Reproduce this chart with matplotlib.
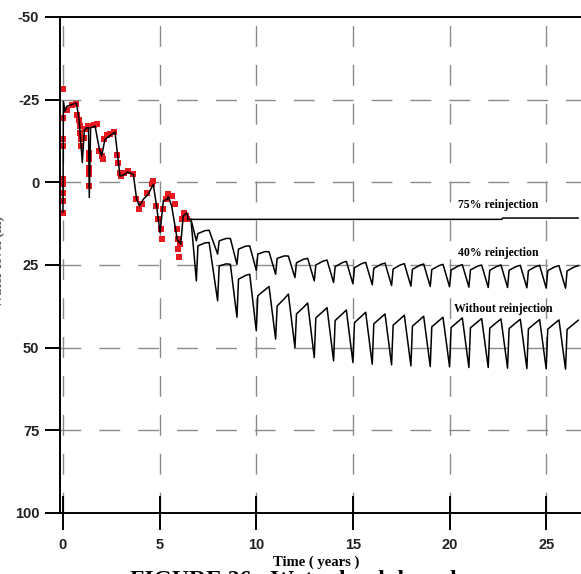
import matplotlib
matplotlib.use('Agg')
import matplotlib.pyplot as plt
import numpy as np

plt.rcParams['axes.unicode_minus'] = False

# observed water level (red squares), years / m
obs_t = [0.02, 0.02, 0.02, 0.02, 0.02, 0.02, 0.02, 0.02, 0.02, 0.19, 0.45, 0.67, 0.74, 0.84,
         0.88, 0.9, 0.91, 0.93, 1.09, 1.14, 1.28, 1.36, 1.36, 1.36, 1.36, 1.36, 1.6, 1.74,
         1.88, 2.0, 2.05, 2.12, 2.28, 2.45, 2.66, 2.78, 2.87, 2.96, 2.98, 3.16, 3.38, 3.64,
         3.78, 3.95, 4.07, 4.33, 4.59, 4.67, 4.81, 4.93, 5.05, 5.1, 5.19, 5.33, 5.45, 5.62,
         5.79, 5.88, 5.96, 5.96, 6.02, 6.05, 6.14, 6.26, 6.36, 6.4]
obs_y = [-28.3, -19.5, -13.0, -11.0, -0.9, 0.6, 3.1, 5.6, 9.2, -22.0, -23.5, -23.6, -20.5, -19.0,
         -17.0, -15.0, -13.0, -11.0, -13.5, -16.0, -17.0, -9.0, -7.0, -4.4, -2.4, 1.1, -17.2, -17.5,
         -9.5, -8.0, -7.0, -13.0, -14.2, -14.5, -15.2, -8.4, -5.9, -2.9, -1.9, -2.9, -3.4, -2.6,
         5.1, 8.2, 6.6, 3.1, 0.6, -0.4, 7.1, 11.2, 14.2, 17.0, 8.2, 5.1, 3.6, 4.1,
         6.6, 14.2, 17.2, 20.2, 22.7, 18.7, 11.2, 9.2, 10.2, 11.2]

# simulated history (black line)
sim_t = [0.0, 0.02, 0.1, 0.2, 0.7, 0.84, 1.0, 1.1, 1.22, 1.32, 1.36, 1.43, 1.66, 1.88, 2.0,
         2.17, 2.52, 2.69, 2.81, 2.95, 3.2, 3.33, 3.64, 3.81, 3.95, 4.16, 4.41, 4.67, 4.84,
         5.02, 5.19, 5.4, 5.45, 5.62, 5.91, 6.09, 6.22, 6.4, 6.48]
sim_y = [9.0, -24.5, -21.5, -23.0, -24.0, -18.5, -6.0, -15.5, -16.5, -16.5, 4.6, -16.5, -17.0,
         -10.0, -8.0, -13.0, -14.5, -15.2, -9.0, -1.9, -2.4, -3.1, -2.4, 5.1, 7.1, 5.1, 3.6,
         0.6, 7.1, 15.2, 5.6, 5.1, 4.3, 7.1, 17.2, 18.7, 10.2, 9.2, 11.2]

# predictions
p75_t = [6.48, 22.7, 22.75, 26.65]
p75_y = [11.2, 11.2, 10.8, 10.8]

branch_start = (6.62, 11.2)
trough_years = [6.9, 8, 9, 10, 11, 12, 13, 14, 15, 16, 17, 18, 19, 20, 21, 22, 23, 24, 25, 26]

p40_trough = [17.7, 21.7, 24.8, 26.6, 27.8, 28.8, 29.8, 30.3, 30.7, 31.0, 31.2, 31.4, 31.5,
              31.6, 31.7, 31.8, 31.8, 31.9, 32.0, 32.0]
p40_rise = [15.5, 17.7, 20.2, 21.7, 23.0, 24.3, 25.0, 25.5, 25.8, 26.0, 26.2, 26.3, 26.4,
            26.5, 26.5, 26.6, 26.6, 26.7, 26.7, 26.8]
p40_peak = [14.5, 17.0, 19.2, 21.0, 22.3, 23.0, 23.5, 23.9, 24.2, 24.4, 24.6, 24.7, 24.8,
            24.9, 25.0, 25.0, 25.1, 25.1, 25.2, 25.2]

p0_trough = [29.8, 35.8, 40.8, 44.9, 47.4, 50.0, 53.0, 54.0, 54.5, 55.0, 55.2, 55.5, 55.7,
             55.8, 56.0, 56.0, 56.2, 56.3, 56.4, 56.5]
p0_rise = [19.2, 25.3, 29.3, 34.3, 37.4, 39.8, 41.0, 41.8, 42.4, 42.8, 43.2, 43.5, 43.7,
           43.9, 44.0, 44.1, 44.2, 44.3, 44.4, 44.5]
p0_peak = [18.2, 24.8, 27.8, 31.5, 33.8, 36.5, 37.9, 38.6, 39.3, 39.8, 40.2, 40.5, 40.8,
           41.0, 41.2, 41.3, 41.4, 41.5, 41.6, 41.7]


def sawtooth(trough, rise, peak):
    # each year: drop to trough, quick recovery, slow rise to peak
    t = [branch_start[0]]
    y = [branch_start[1]]
    for k, yr in enumerate(trough_years):
        t += [yr, yr + 0.08, yr + 0.45, yr + 0.66]
        y += [trough[k], rise[k], (rise[k] + peak[k]) / 2 - 0.4, peak[k]]
    return t, y


W, H = 581, 574
fig = plt.figure(figsize=(W / 100, H / 100), dpi=100)
ax = fig.add_axes([60 / W, 61 / H, (W - 60) / W, 496 / H])

grid_kw = dict(color='#8a8a8a', lw=1.0, linestyle=(0, (15, 13)), zorder=1)
for gx in [0, 5, 10, 15, 20, 25]:
    ax.axvline(gx, **grid_kw)
for gy in [-25, 0, 25, 50, 75]:
    ax.axhline(gy, **grid_kw)

ax.plot(obs_t, obs_y, 's', color='#e8191f', ms=4.0, mew=0, zorder=2)
ax.plot(sim_t, sim_y, color='black', lw=1.1, zorder=3)
ax.plot(p75_t, p75_y, color='black', lw=1.1, zorder=3)
t40, y40 = sawtooth(p40_trough, p40_rise, p40_peak)
ax.plot(t40, y40, color='black', lw=1.1, zorder=3)
t0, y0 = sawtooth(p0_trough, p0_rise, p0_peak)
ax.plot(t0, y0, color='black', lw=1.1, zorder=3)

lab_font = dict(family='Liberation Serif', fontweight='bold', fontsize=8.5, ha='center', va='center')
ax.text(22.5, 6.8, '75% reinjection', **lab_font)
ax.text(22.5, 21.5, '40% reinjection', **lab_font)
ax.text(22.8, 38.4, 'Without reinjection', **lab_font)

ax.set_xlim(-0.155, 26.8)
ax.set_ylim(100, -50)
ax.set_xticks([0, 5, 10, 15, 20, 25])
ax.set_yticks([-50, -25, 0, 25, 50, 75, 100])

ax.spines['right'].set_visible(False)
for s in ['left', 'top', 'bottom']:
    ax.spines[s].set_linewidth(1.4)

ax.tick_params(axis='x', direction='inout', length=24, width=1.4, pad=6)
ax.tick_params(axis='y', direction='out', length=11, width=1.4, pad=4)
for lbl in ax.get_xticklabels() + ax.get_yticklabels():
    lbl.set_family('Liberation Sans')
    lbl.set_fontweight('bold')
    lbl.set_fontsize(10.5)
    lbl.set_color('#222222')

fig.text(316 / W, 1 - 562 / H, 'Time ( years )', family='Liberation Serif', fontweight='bold',
         fontsize=10.5, ha='center', va='center')
fig.text(-2 / W, 1 - 262 / H, 'Water level (m)', family='Liberation Serif', fontweight='bold',
         fontsize=10, rotation=90, ha='center', va='center', color='#555555')
fig.text(130 / W, 1 - 569.5 / H, 'FIGURE 26:  Water level drawdown', family='Liberation Serif',
         fontweight='bold', fontsize=17, ha='left', va='top')

fig.savefig('out.png', dpi=100)
